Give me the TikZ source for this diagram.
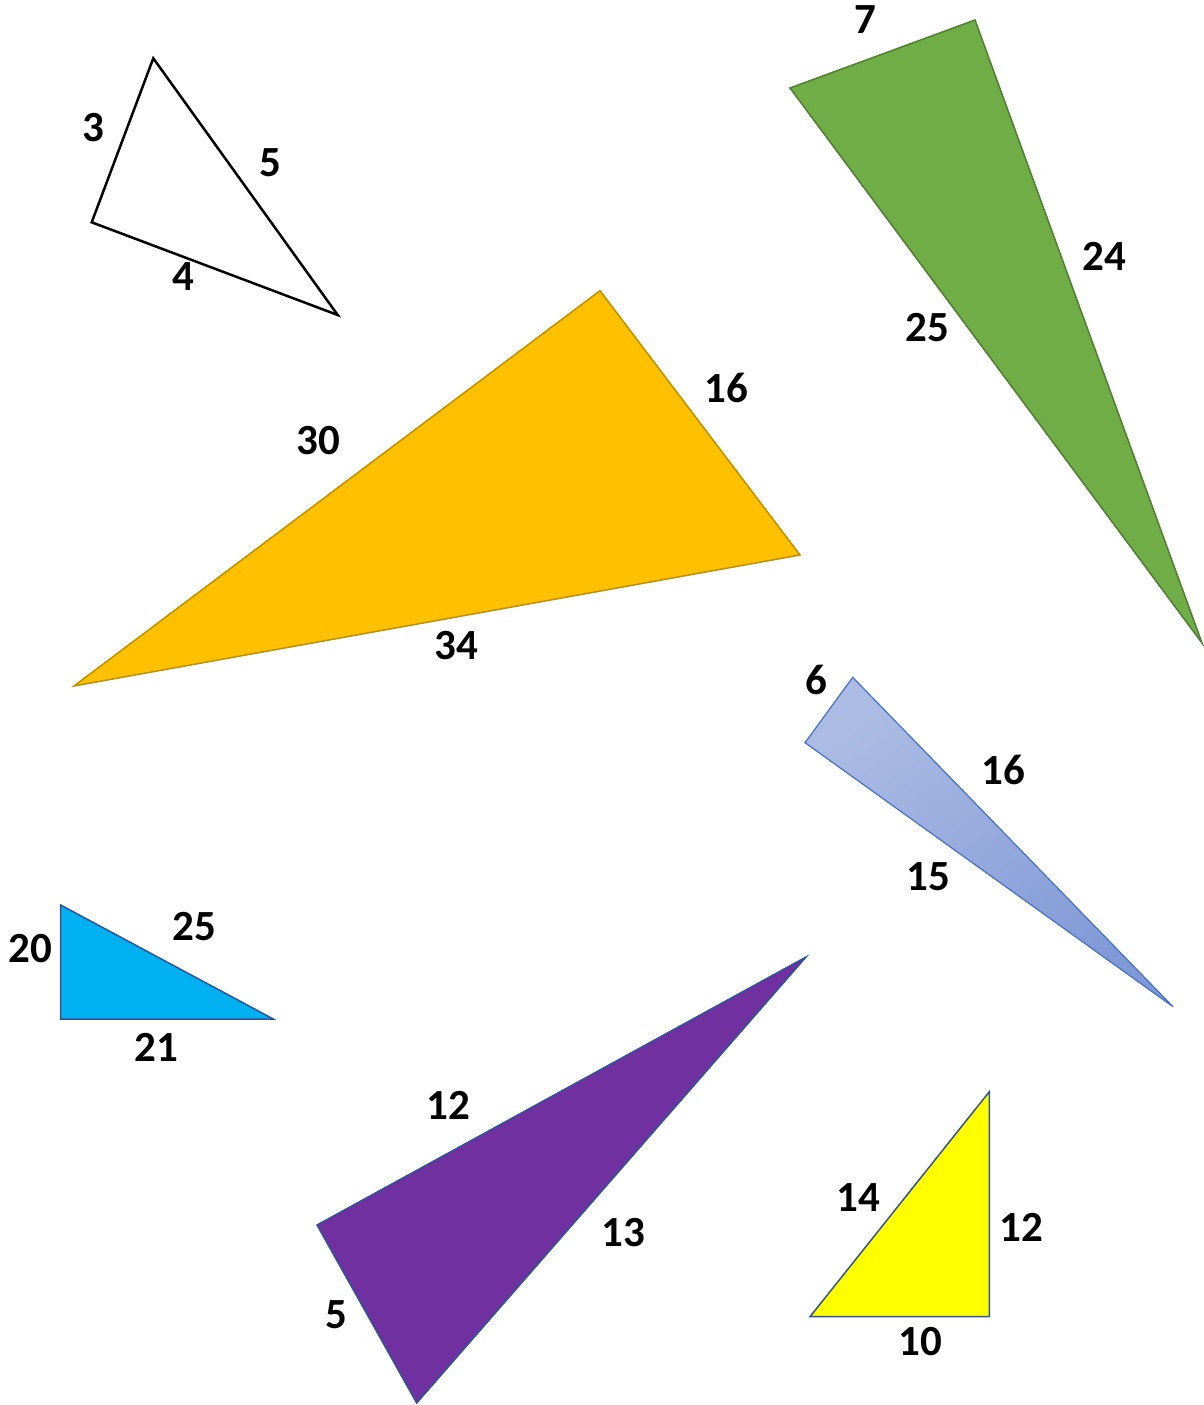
\documentclass[tikz,border=0pt]{standalone}
\usepackage{fontspec}
\setmainfont{Carlito}
\begin{document}
\begin{tikzpicture}[x=1pt,y=-1pt,
  lbl/.style={font=\fontsize{43}{50}\selectfont\bfseries, inner sep=0pt},
  tri/.style={line width=1.5pt, line join=miter}]
\useasboundingbox (0,0) rectangle (1204,1405);
\definecolor{orangeF}{HTML}{FFC000}
\definecolor{orangeD}{HTML}{BF9000}
\definecolor{greenF}{HTML}{70AD47}
\definecolor{greenD}{HTML}{507E32}
\definecolor{blueTop}{HTML}{ABBBE3}
\definecolor{blueBot}{HTML}{7F98D6}
\definecolor{blueD}{HTML}{4472C4}
\definecolor{cyanF}{HTML}{00B0F0}
\definecolor{edgeD}{HTML}{2F5597}
\definecolor{purpleF}{HTML}{7030A0}
\definecolor{yellowF}{HTML}{FFFF00}

% white triangle
\coordinate (w1) at (153.3,58.3);
\coordinate (w2) at (91.7,222.3);
\coordinate (w3) at (337.7,315);
\draw[line width=2.5pt, fill=white] (w1) -- (w2) -- (w3) -- cycle;
\node[lbl] (w3l) at (93,128) {3};
\node[lbl] (w5l) at (270,163) {5};
\node[lbl] (w4l) at (183,277) {4};

% orange triangle
\coordinate (o1) at (600,290.7);
\coordinate (o2) at (800,555);
\coordinate (o3) at (74,686);
\draw[tri, fill=orangeF, draw=orangeD] (o1) -- (o2) -- (o3) -- cycle;
\node[lbl] (o30) at (318,441) {30};
\node[lbl] (o16) at (726,388) {16};
\node[lbl] (o34) at (456,646) {34};

% green triangle
\coordinate (g1) at (790,88);
\coordinate (g2) at (975,20);
\coordinate (g3) at (1202,643);
\draw[tri, fill=greenF, draw=greenD] (g1) -- (g2) -- (g3) -- cycle;
\node[lbl] (g7) at (865,20) {7};
\node[lbl] (g24) at (1104,256) {24};
\node[lbl] (g25) at (927,328) {25};

% blue gradient triangle
\coordinate (b1) at (852.7,677.3);
\coordinate (b2) at (805,742.7);
\coordinate (b3) at (1173,1006.7);
\shade[top color=blueTop, bottom color=blueBot, shading angle=35] (b1) -- (b2) -- (b3) -- cycle;
\draw[line width=1.2pt, draw=blueD] (b1) -- (b2) -- (b3) -- cycle;
\node[lbl] (b6) at (816,680) {6};
\node[lbl] (b16) at (1003,770) {16};
\node[lbl] (b15) at (928,877) {15};

% cyan triangle
\coordinate (c1) at (60.7,905);
\coordinate (c2) at (60.7,1019);
\coordinate (c3) at (273.3,1019);
\draw[tri, fill=cyanF, draw=edgeD] (c1) -- (c2) -- (c3) -- cycle;
\node[lbl] (c20) at (30,949) {20};
\node[lbl] (c25) at (194,927) {25};
\node[lbl] (c21) at (156,1047) {21};

% purple triangle
\coordinate (p1) at (806,957);
\coordinate (p2) at (317,1225);
\coordinate (p3) at (416.7,1403);
\draw[tri, fill=purpleF, draw=edgeD] (p1) -- (p2) -- (p3) -- cycle;
\node[lbl] (p12) at (448,1105) {12};
\node[lbl] (p13) at (623,1233) {13};
\node[lbl] (p5) at (336,1315) {5};

% yellow triangle
\coordinate (y1) at (989.3,1091.7);
\coordinate (y2) at (989.3,1316.7);
\coordinate (y3) at (810,1316.7);
\draw[tri, fill=yellowF, draw=edgeD] (y1) -- (y2) -- (y3) -- cycle;
\node[lbl] (y14) at (858,1198) {14};
\node[lbl] (y12) at (1021,1227) {12};
\node[lbl] (y10) at (920,1342) {10};
\end{tikzpicture}
\end{document}
